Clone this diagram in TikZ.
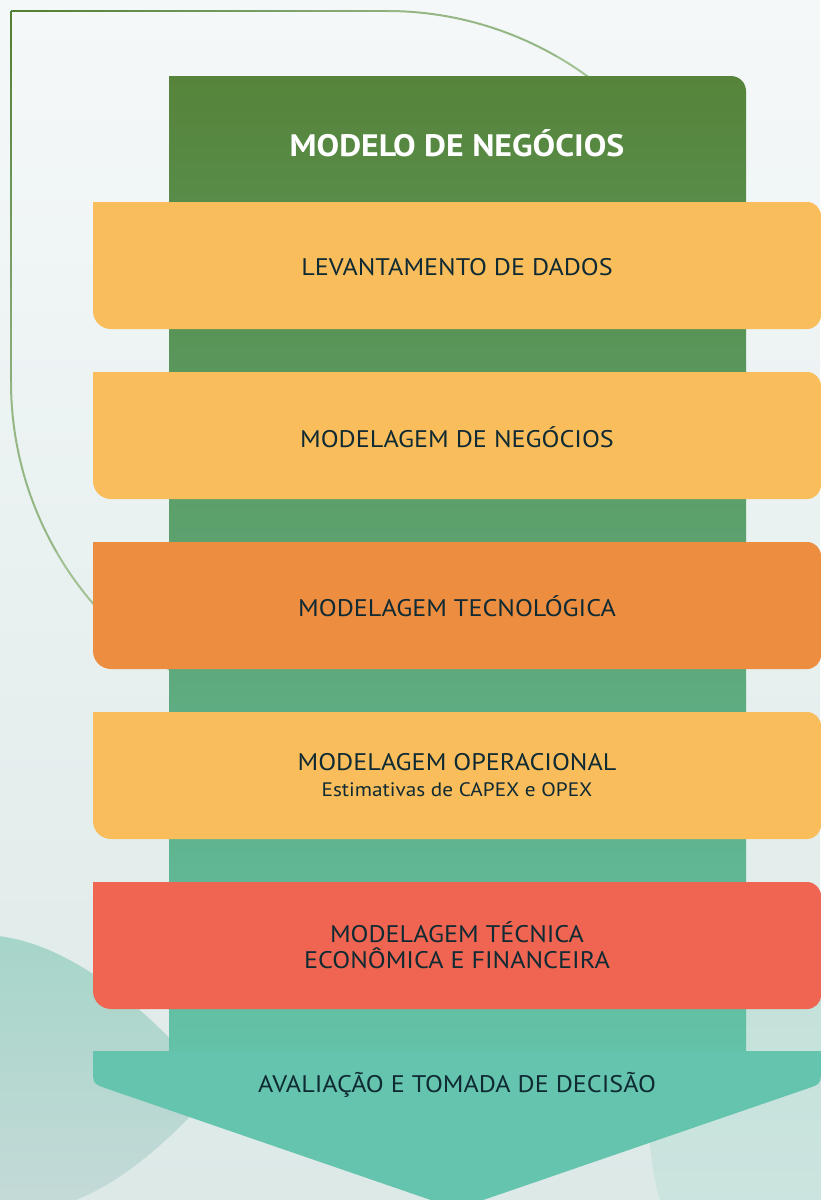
\documentclass[tikz,border=0pt]{standalone}
\usepackage{fontspec}
\setmainfont{PT Sans}[FakeStretch=1.09]
\definecolor{bgtop}{HTML}{F5F8F9}
\definecolor{bgmid}{HTML}{EDF3F4}
\definecolor{bgbot}{HTML}{DCE9E7}
\definecolor{lndark}{HTML}{4F8034}
\definecolor{lnlight}{HTML}{8DB07C}
\definecolor{lnarc}{HTML}{A2C293}
\definecolor{coltop}{HTML}{56843A}
\definecolor{colbot}{HTML}{63C2A8}
\definecolor{bandY}{HTML}{F9BE5B}
\definecolor{bandO}{HTML}{EC8D40}
\definecolor{bandR}{HTML}{F06551}
\definecolor{arrowc}{HTML}{64C4AD}
\definecolor{txtc}{HTML}{102A33}
\definecolor{leaftop}{HTML}{A6D5C9}
\definecolor{leafbot}{HTML}{C4DAD8}
\definecolor{circtop}{HTML}{BEE0D7}
\definecolor{circbot}{HTML}{D4E6E3}
\tikzset{
  bandtext/.style={text=txtc, font=\fontsize{24}{27}\selectfont, align=center, inner sep=0pt},
  subtext/.style={text=txtc, font=\fontsize{19.5}{22}\selectfont, inner sep=0pt},
  titletext/.style={text=white, font=\fontsize{31}{34}\bfseries\selectfont, inner sep=0pt},
  leafline/.style={line width=2pt}
}
\newcommand{\bandshape}[2]{%
  \fill[#2] (93,#1) -- (807,#1) arc[start angle=-90,end angle=0,radius=14]
    -- (821,#1+113) arc[start angle=0,end angle=90,radius=14]
    -- (111,#1+127) arc[start angle=90,end angle=180,radius=18] -- cycle;}
\begin{document}
\begin{tikzpicture}[x=1pt,y=-1pt]
\useasboundingbox (0,0) rectangle (820,1200);
% background
\shade[top color=bgtop, middle color=bgmid, bottom color=bgbot] (0,0) rectangle (820,1200);
% decorative shapes at the bottom
\shade[top color=leaftop, bottom color=leafbot] (-2,936) .. controls (70,944) and (150,1008) .. (215,1090)
  .. controls (170,1140) and (120,1185) .. (70,1202) -- (-2,1202) -- cycle;
\shade[top color=circtop, bottom color=circbot] (900,1130) circle[radius=250];
% outline line (gradient by segments)
\foreach \i in {0,...,19}{
  \pgfmathsetmacro{\xa}{11+\i*376/20}
  \pgfmathsetmacro{\xb}{11+(\i+1)*376/20}
  \pgfmathsetmacro{\p}{100-\i*5}
  \draw[leafline, color=lndark!\p!lnlight] (\xa,11) -- (\xb,11);
  \pgfmathsetmacro{\ya}{11+\i*371/20}
  \pgfmathsetmacro{\yb}{11+(\i+1)*371/20}
  \draw[leafline, color=lndark!\p!lnlight] (11,\ya) -- (11,\yb);
}
\draw[leafline, color=lnlight!60!lnarc] (387,11) arc[start angle=-90,end angle=-60,radius=340];
\draw[leafline, color=lnarc] (557,56.5) arc[start angle=-60,end angle=0,radius=340];
\draw[leafline, color=lnlight!60!lnarc] (11,382) arc[start angle=180,end angle=150,radius=340];
\draw[leafline, color=lnarc] (56.5,552) arc[start angle=150,end angle=90,radius=340];
% column
\shade[top color=coltop, bottom color=colbot] (169,1052) -- (169,76) -- (731,76)
  arc[start angle=-90,end angle=0,radius=15] -- (746,1052) -- cycle;
% arrow
\fill[arrowc] (93,1051) -- (821,1051) -- (821,1068) .. controls (821,1084) and (821,1084) .. (806,1089)
  -- (457,1209) -- (108,1089) .. controls (93,1084) and (93,1084) .. (93,1068) -- cycle;
% bands
\bandshape{202}{bandY}
\bandshape{372}{bandY}
\bandshape{542}{bandO}
\bandshape{712}{bandY}
\bandshape{882}{bandR}
% texts
\node[titletext] (title) at (457,143) {MODELO DE NEGÓCIOS};
\node[bandtext] (b1) at (457,267) {LEVANTAMENTO DE DADOS};
\node[bandtext] (b2) at (457,437) {MODELAGEM DE NEGÓCIOS};
\node[bandtext] (b3) at (457,606) {MODELAGEM TECNOLÓGICA};
\node[bandtext] (b4) at (457,762) {MODELAGEM OPERACIONAL};
\node[subtext] (b4s) at (457,790) {Estimativas de CAPEX e OPEX};
\node[bandtext] (b5a) at (457,932) {MODELAGEM TÉCNICA};
\node[bandtext] (b5b) at (457,958) {ECONÔMICA E FINANCEIRA};
\node[bandtext] (b6) at (457,1085) {AVALIAÇÃO E TOMADA DE DECISÃO};
\end{tikzpicture}
\end{document}
